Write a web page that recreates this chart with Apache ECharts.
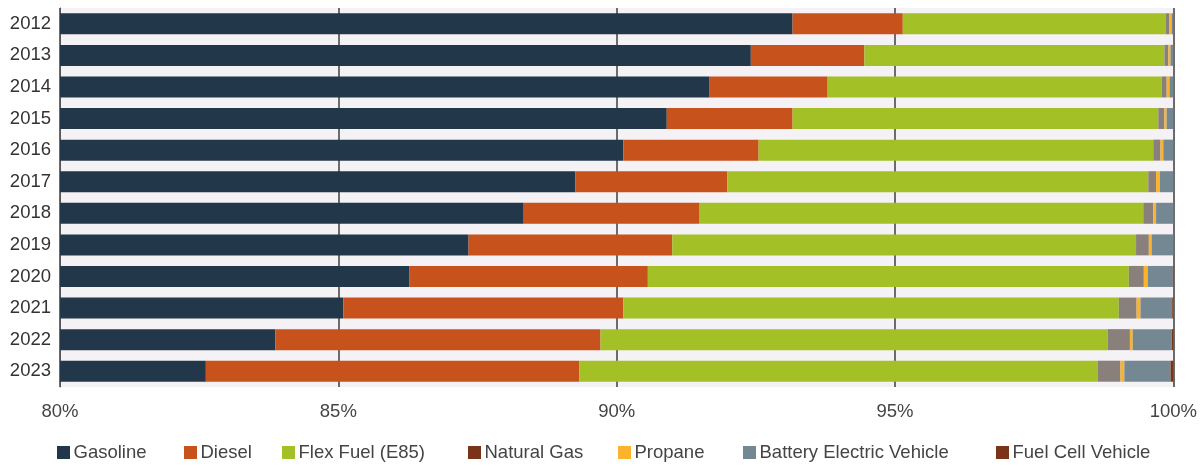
<!DOCTYPE html>
<html>
<head>
<meta charset="utf-8">
<title>Vehicle fuel share</title>
<script src="https://cdn.jsdelivr.net/npm/echarts@6/dist/echarts.min.js"></script>
<style>
    html, body { margin: 0; padding: 0; background: #fff; }
    #chart { width: 1200px; height: 466px; }
</style>
</head>
<body>
<div id="chart"></div>
<script>
//年份
const years = ['2012', '2013', '2014', '2015', '2016', '2017', '2018', '2019', '2020', '2021', '2022', '2023'];
//各燃料占比（%）
const gasoline = [93.16, 92.41, 91.67, 90.90, 90.12, 89.26, 88.33, 87.34, 86.28, 85.09, 83.87, 82.62];
const diesel = [1.98, 2.04, 2.12, 2.26, 2.43, 2.73, 3.16, 3.66, 4.28, 5.03, 5.84, 6.71];
const flexFuel = [4.72, 5.39, 6.00, 6.57, 7.09, 7.56, 7.97, 8.33, 8.64, 8.90, 9.11, 9.31];
const naturalGas = [0.07, 0.07, 0.09, 0.11, 0.13, 0.14, 0.18, 0.23, 0.27, 0.32, 0.40, 0.41];
const propane = [0.04, 0.04, 0.05, 0.04, 0.05, 0.07, 0.05, 0.05, 0.07, 0.07, 0.05, 0.07];
const battery = [0.03, 0.05, 0.07, 0.12, 0.18, 0.24, 0.31, 0.39, 0.45, 0.57, 0.70, 0.83];
const fuelCell = [0, 0, 0, 0, 0, 0, 0, 0, 0.01, 0.02, 0.03, 0.05];
//横轴刻度
const xMin = 80;
const xMax = 100;
const xStep = 5;

//系列配置：名称、数据、柱色、图例色、图例位置
const seriesList = [
    { name: 'Gasoline', data: gasoline, color: '#22384a', legendColor: '#22384a', left: 57 },
    { name: 'Diesel', data: diesel, color: '#c8521c', legendColor: '#c8521c', left: 184 },
    { name: 'Flex Fuel (E85)', data: flexFuel, color: '#a3c026', legendColor: '#a3c026', left: 282 },
    { name: 'Natural Gas', data: naturalGas, color: '#8a807b', legendColor: '#7a3519', left: 468 },
    { name: 'Propane', data: propane, color: '#fbb22c', legendColor: '#fbb22c', left: 618 },
    { name: 'Battery Electric Vehicle', data: battery, color: '#748894', legendColor: '#748894', left: 743 },
    { name: 'Fuel Cell Vehicle', data: fuelCell, color: '#7a3519', legendColor: '#7a3519', left: 996 }
];

const chart = echarts.init(document.getElementById('chart'));

//图例：每项单独定位
function buildLegends() {
    return seriesList.map(function (s) {
        return {
            left: s.left,
            top: 443,
            padding: 0,
            itemWidth: 13,
            itemHeight: 13,
            icon: 'rect',
            selectedMode: false,
            textStyle: { color: '#444', fontSize: 18.5, fontFamily: 'Liberation Sans', padding: [0, 0, 0, -1.5] },
            data: [{ name: s.name, itemStyle: { color: s.legendColor } }]
        };
    });
}

//堆叠柱
function buildSeries() {
    return seriesList.map(function (s) {
        return {
            name: s.name,
            type: 'bar',
            stack: 'total',
            barWidth: 21,
            data: s.data,
            itemStyle: { color: s.color },
            emphasis: { disabled: true }
        };
    });
}

const option = {
    animation: false,
    backgroundColor: '#fff',
    grid: {
        left: 60,
        right: 26,
        top: 8,
        height: 379,
        show: true,
        borderWidth: 0,
        backgroundColor: '#f4f2f5'
    },
    legend: buildLegends(),
    xAxis: {
        type: 'value',
        min: xMin,
        max: xMax,
        interval: xStep,
        axisLine: { show: false },
        axisTick: { show: false },
        axisLabel: {
            formatter: '{value}%',
            color: '#444',
            fontSize: 18.5,
            fontFamily: 'Liberation Sans',
            margin: 15
        },
        splitLine: { show: true, lineStyle: { color: '#6b6b6b', width: 2 } }
    },
    yAxis: {
        type: 'category',
        inverse: true,
        data: years,
        axisLine: { show: true, lineStyle: { color: '#555', width: 1 } },
        axisTick: { show: false },
        axisLabel: {
            color: '#333',
            fontSize: 18.5,
            fontFamily: 'Liberation Sans',
            margin: 9
        }
    },
    series: buildSeries()
};

chart.setOption(option);
</script>
</body>
</html>
